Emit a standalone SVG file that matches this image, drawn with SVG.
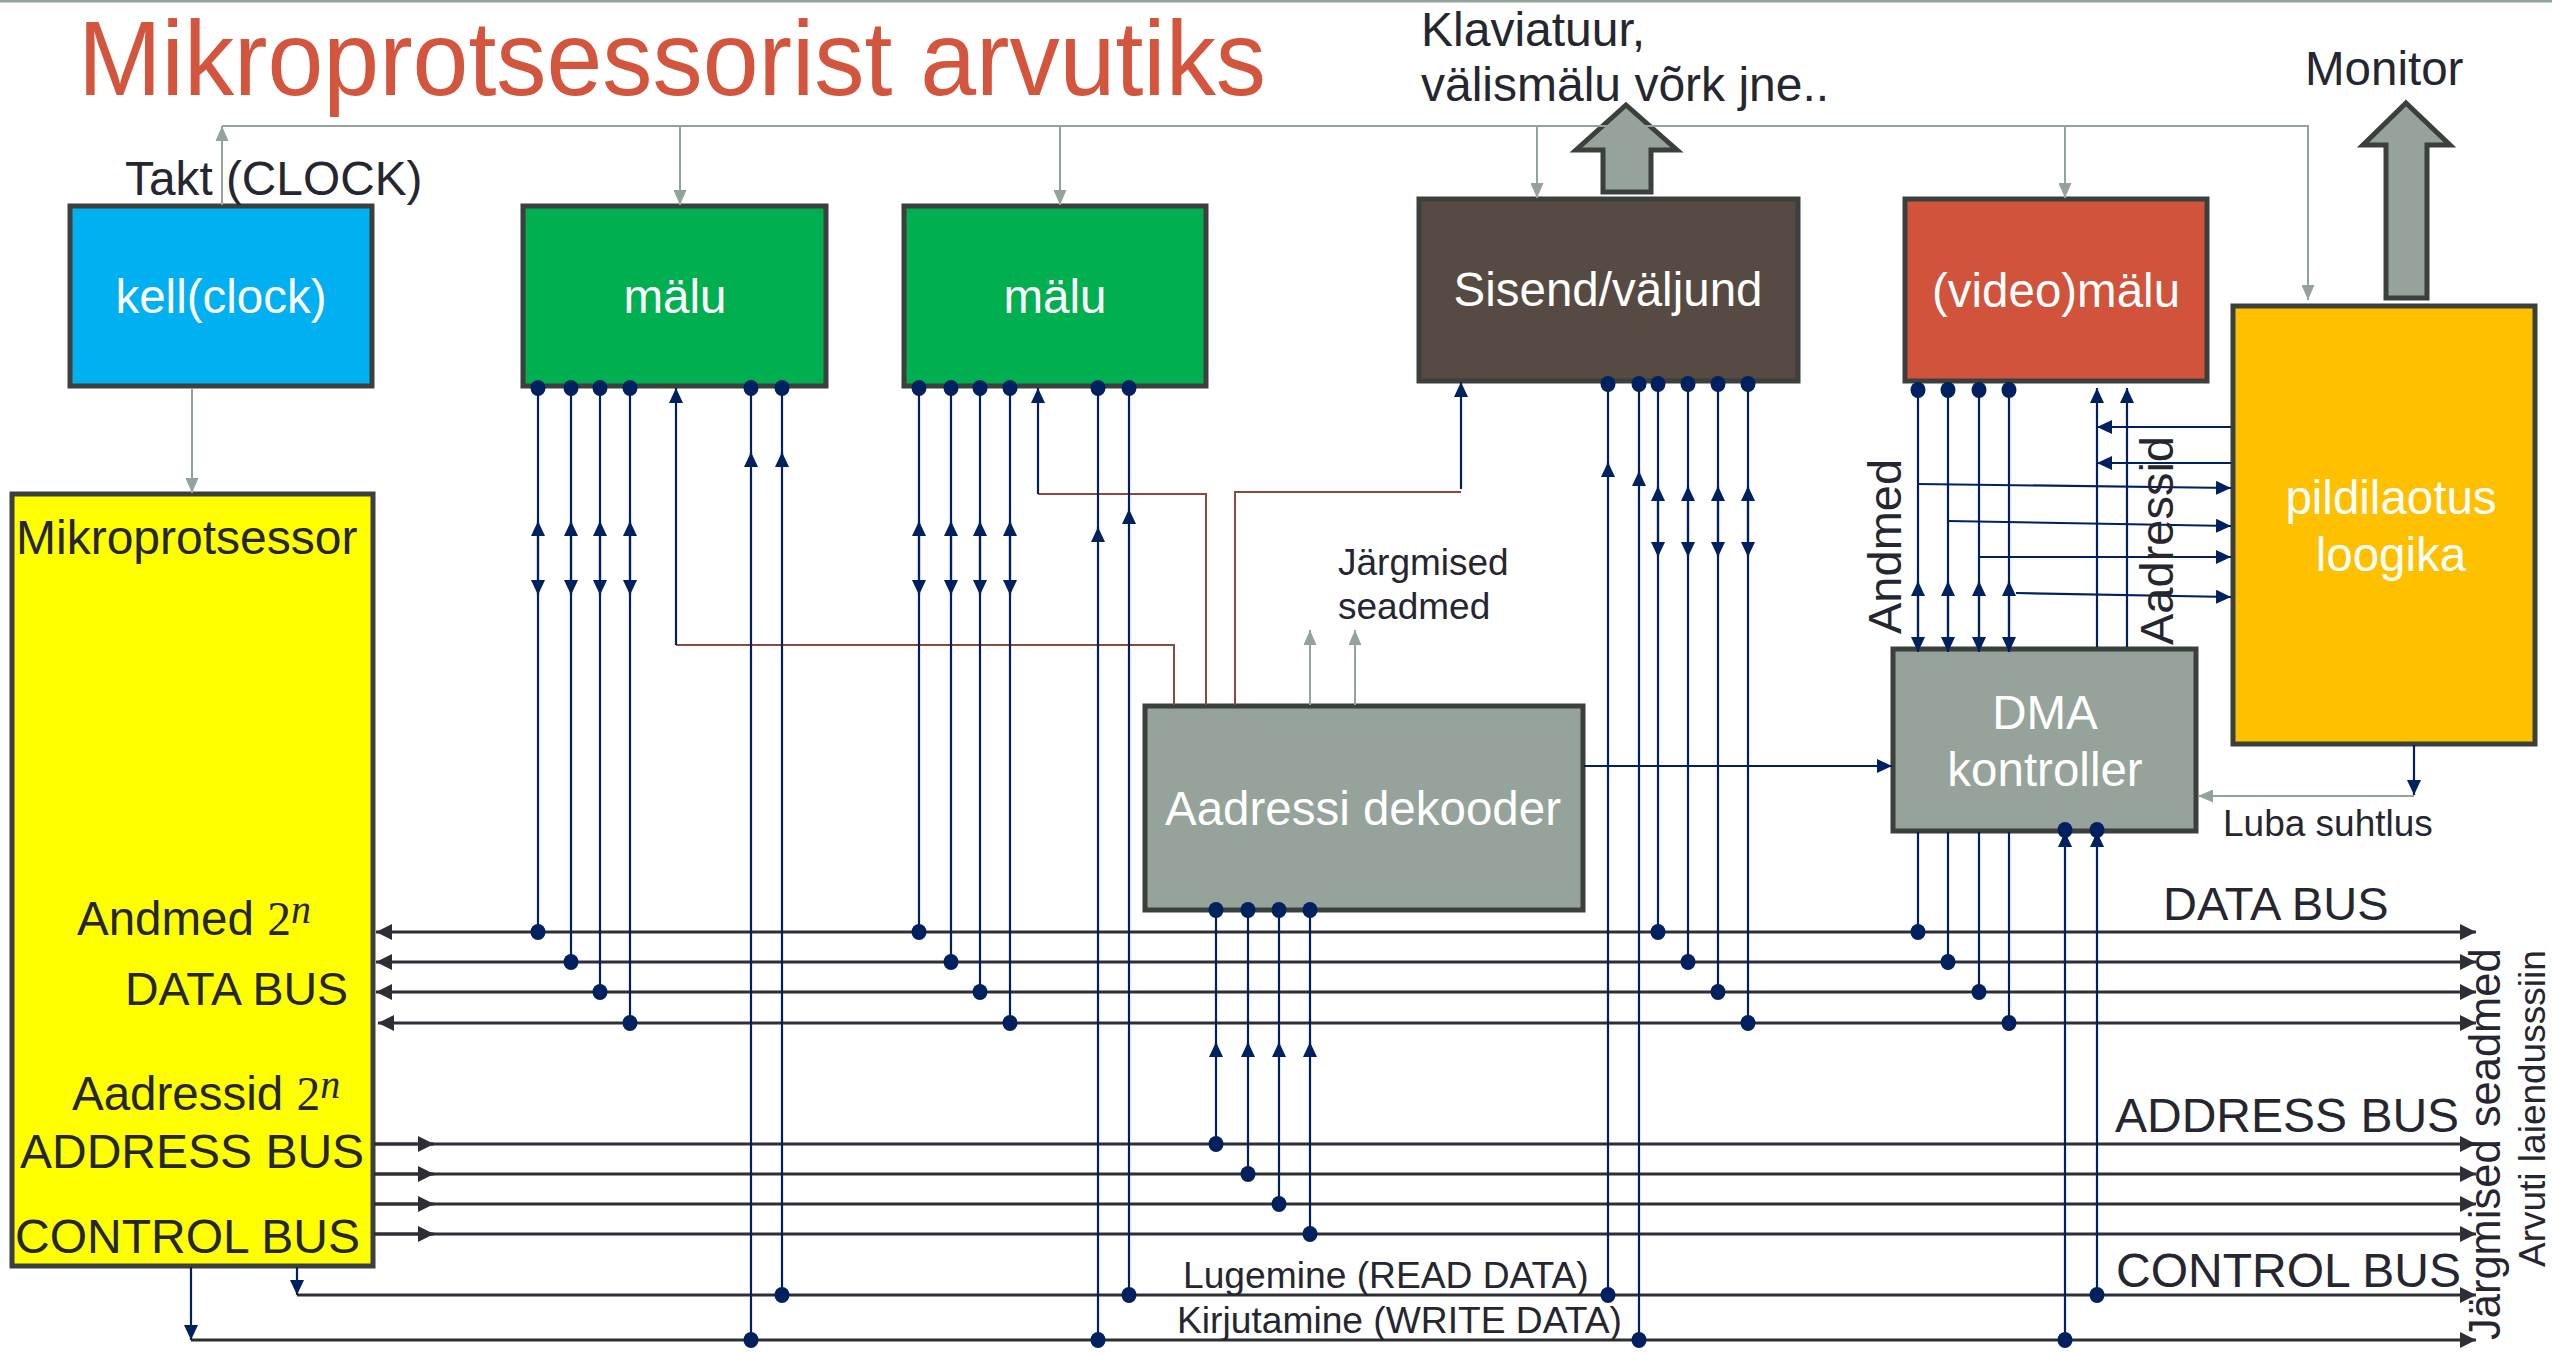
<svg xmlns="http://www.w3.org/2000/svg" width="2552" height="1353" viewBox="0 0 2552 1353">
  <style>
    .box { stroke: #3b403c; stroke-width: 5; }
    .t { font-family: "Liberation Sans", Arial, sans-serif; }
    .wt { fill: #ffffff; font-size: 47.5px; text-anchor: middle; }
    .lbl { fill: #262630; }
    .nv { stroke: #002060; stroke-width: 2.2; fill: none; }
    .bus { stroke: #2d2e36; stroke-width: 3; fill: none; }
    .gr { stroke: #94a39a; stroke-width: 2; fill: none; }
    .br { stroke: #8b4a3c; stroke-width: 2; fill: none; }
    .blk { fill: #95a39a; stroke: #3b403c; stroke-width: 5; stroke-linejoin: miter; }
    .dot { fill: #002060; }
  </style>
  <defs>
    <marker id="an" viewBox="0 0 15 14" refX="15" refY="7" markerWidth="15" markerHeight="14" markerUnits="userSpaceOnUse" orient="auto">
      <path d="M0,0 L15,7 L0,14 z" fill="#002060"/>
    </marker>
    <marker id="ad" viewBox="0 0 16 16" refX="16" refY="8" markerWidth="16" markerHeight="16" markerUnits="userSpaceOnUse" orient="auto-start-reverse">
      <path d="M0,0 L16,8 L0,16 z" fill="#2d2e36"/>
    </marker>
    <marker id="ag" viewBox="0 0 15 13" refX="15" refY="6.5" markerWidth="15" markerHeight="13" markerUnits="userSpaceOnUse" orient="auto">
      <path d="M0,0 L15,6.5 L0,13 z" fill="#94a39a"/>
    </marker>
    <marker id="dt" viewBox="-8 -8 16 16" refX="0" refY="0" markerWidth="16" markerHeight="16" markerUnits="userSpaceOnUse">
      <ellipse cx="0" cy="0" rx="7.5" ry="8" fill="#002060"/>
    </marker>
  </defs>

  <rect width="2552" height="1353" fill="#ffffff"/>
  <rect x="0" y="0" width="2552" height="2.5" fill="#94a39a"/>

  <text class="t" x="78" y="95" font-size="106" fill="#d3553d" textLength="1188" lengthAdjust="spacingAndGlyphs">Mikroprotsessorist arvutiks</text>

  <!-- blocks -->
  <g id="kell">
    <rect class="box" x="70" y="206" width="302" height="180" fill="#00b0f0"/>
    <text class="t wt" x="221" y="313" font-size="46.5">kell(clock)</text>
  </g>
  <g id="malu1">
    <rect class="box" x="523" y="206" width="303" height="180" fill="#00b050"/>
    <text class="t wt" x="675" y="313">mälu</text>
  </g>
  <g id="malu2">
    <rect class="box" x="904" y="206" width="302" height="180" fill="#00b050"/>
    <text class="t wt" x="1055" y="313">mälu</text>
  </g>
  <g id="sisend">
    <rect class="box" x="1419" y="199" width="379" height="182" fill="#564a42"/>
    <text class="t wt" x="1608" y="306" font-size="48">Sisend/väljund</text>
  </g>
  <g id="videomalu">
    <rect class="box" x="1905" y="199" width="302" height="182" fill="#d2533b"/>
    <text class="t wt" x="2056" y="307" font-size="47">(video)mälu</text>
  </g>
  <g id="pildilaotus">
    <rect class="box" x="2233" y="306" width="302" height="438" fill="#ffc000"/>
    <text class="t wt" x="2391" y="514">pildilaotus</text>
    <text class="t wt" x="2391" y="571">loogika</text>
  </g>
  <g id="mikroprotsessor">
    <rect class="box" x="12" y="494" width="361" height="772" fill="#ffff00"/>
    <text class="t lbl" x="16" y="554" font-size="48">Mikroprotsessor</text>
    <text class="t lbl" x="77" y="935" font-size="47.5">Andmed <tspan font-family="Liberation Serif, serif">2</tspan><tspan font-family="Liberation Serif, serif" font-style="italic" font-size="40" dy="-12">n</tspan></text>
    <text class="t lbl" x="125" y="1005" font-size="46.5">DATA BUS</text>
    <text class="t lbl" x="72" y="1110" font-size="47.5">Aadressid <tspan font-family="Liberation Serif, serif">2</tspan><tspan font-family="Liberation Serif, serif" font-style="italic" font-size="40" dy="-12">n</tspan></text>
    <text class="t lbl" x="20" y="1168" font-size="48">ADDRESS BUS</text>
    <text class="t lbl" x="15" y="1253" font-size="48">CONTROL BUS</text>
  </g>
  <g id="dekooder">
    <rect class="box" x="1145" y="706" width="438" height="204" fill="#95a39a"/>
    <text class="t wt" x="1363" y="825">Aadressi dekooder</text>
  </g>
  <g id="dma">
    <rect class="box" x="1893" y="649" width="303" height="182" fill="#95a39a"/>
    <text class="t wt" x="2045" y="729">DMA</text>
    <text class="t wt" x="2045" y="786">kontroller</text>
  </g>
  <g id="valisseadmed">
    <path class="blk" d="M1626,105 L1677,150 L1651,150 L1651,192 L1603,192 L1603,150 L1576,150 Z"/>
  </g>
  <g id="monitor">
    <path class="blk" d="M2406,103 L2450,145 L2427,145 L2427,298 L2386,298 L2386,145 L2363,145 Z"/>
  </g>

  <g id="connectors">
    <!-- buses -->
    <g class="bus">
      <path d="M376,932 H2476" marker-start="url(#ad)" marker-end="url(#ad)"/>
      <path d="M376,962 H2476" marker-start="url(#ad)" marker-end="url(#ad)"/>
      <path d="M376,992 H2476" marker-start="url(#ad)" marker-end="url(#ad)"/>
      <path d="M378,1023 H2476" marker-start="url(#ad)" marker-end="url(#ad)"/>
      <path d="M374,1144 H2476" marker-end="url(#ad)"/>
      <path d="M374,1174 H2476" marker-end="url(#ad)"/>
      <path d="M374,1204 H2476" marker-end="url(#ad)"/>
      <path d="M374,1234 H2476" marker-end="url(#ad)"/>
      <path d="M374,1144 H434" marker-end="url(#ad)"/>
      <path d="M374,1174 H434" marker-end="url(#ad)"/>
      <path d="M374,1204 H434" marker-end="url(#ad)"/>
      <path d="M374,1234 H434" marker-end="url(#ad)"/>
      <path d="M297,1295 H2476" marker-end="url(#ad)"/>
      <path d="M191,1340 H2476" marker-end="url(#ad)"/>
    </g>

    <!-- clock distribution and other grey links -->
    <g class="gr">
      <path d="M222,205 V126" marker-end="url(#ag)"/>
      <path d="M222,126 H2308 V300" marker-end="url(#ag)"/>
      <path d="M680,126 V205" marker-end="url(#ag)"/>
      <path d="M1060,126 V205" marker-end="url(#ag)"/>
      <path d="M1537,126 V198" marker-end="url(#ag)"/>
      <path d="M2065,126 V198" marker-end="url(#ag)"/>
      <path d="M192,388 V493" marker-end="url(#ag)"/>
      <path d="M1310,705 V630" marker-end="url(#ag)"/>
      <path d="M1355,705 V630" marker-end="url(#ag)"/>
      <path d="M2414,796 H2198" marker-end="url(#ag)"/>
    </g>

    <!-- chip select lines from the decoder -->
    <g class="br">
      <path d="M676,645 H1174 V705"/>
      <path d="M1038,494 H1206 V705"/>
      <path d="M1461,492 H1235 V705"/>
    </g>

    <g class="nv">
      <!-- memory 1 data -->
      <path d="M538,388 V595" marker-start="url(#dt)" marker-end="url(#an)"/>
      <path d="M538,932 V521" marker-start="url(#dt)" marker-end="url(#an)"/>
      <path d="M571,388 V595" marker-start="url(#dt)" marker-end="url(#an)"/>
      <path d="M571,962 V521" marker-start="url(#dt)" marker-end="url(#an)"/>
      <path d="M600,388 V595" marker-start="url(#dt)" marker-end="url(#an)"/>
      <path d="M600,992 V521" marker-start="url(#dt)" marker-end="url(#an)"/>
      <path d="M630,388 V595" marker-start="url(#dt)" marker-end="url(#an)"/>
      <path d="M630,1023 V521" marker-start="url(#dt)" marker-end="url(#an)"/>
      <!-- memory 2 data -->
      <path d="M919,388 V595" marker-start="url(#dt)" marker-end="url(#an)"/>
      <path d="M919,932 V521" marker-start="url(#dt)" marker-end="url(#an)"/>
      <path d="M951,388 V595" marker-start="url(#dt)" marker-end="url(#an)"/>
      <path d="M951,962 V521" marker-start="url(#dt)" marker-end="url(#an)"/>
      <path d="M980,388 V595" marker-start="url(#dt)" marker-end="url(#an)"/>
      <path d="M980,992 V521" marker-start="url(#dt)" marker-end="url(#an)"/>
      <path d="M1010,388 V595" marker-start="url(#dt)" marker-end="url(#an)"/>
      <path d="M1010,1023 V521" marker-start="url(#dt)" marker-end="url(#an)"/>
      <!-- I/O data -->
      <path d="M1658,384 V557" marker-start="url(#dt)" marker-end="url(#an)"/>
      <path d="M1658,932 V486" marker-start="url(#dt)" marker-end="url(#an)"/>
      <path d="M1688,384 V557" marker-start="url(#dt)" marker-end="url(#an)"/>
      <path d="M1688,962 V486" marker-start="url(#dt)" marker-end="url(#an)"/>
      <path d="M1718,384 V557" marker-start="url(#dt)" marker-end="url(#an)"/>
      <path d="M1718,992 V486" marker-start="url(#dt)" marker-end="url(#an)"/>
      <path d="M1748,384 V557" marker-start="url(#dt)" marker-end="url(#an)"/>
      <path d="M1748,1023 V486" marker-start="url(#dt)" marker-end="url(#an)"/>
      <!-- video memory data through DMA -->
      <path d="M1918,390 V652" marker-start="url(#dt)" marker-end="url(#an)"/>
      <path d="M1918,645 V581" marker-end="url(#an)"/>
      <path d="M1918,932 V832" marker-start="url(#dt)"/>
      <path d="M1948,390 V652" marker-start="url(#dt)" marker-end="url(#an)"/>
      <path d="M1948,645 V581" marker-end="url(#an)"/>
      <path d="M1948,962 V832" marker-start="url(#dt)"/>
      <path d="M1979,390 V652" marker-start="url(#dt)" marker-end="url(#an)"/>
      <path d="M1979,645 V581" marker-end="url(#an)"/>
      <path d="M1979,992 V832" marker-start="url(#dt)"/>
      <path d="M2009,390 V652" marker-start="url(#dt)" marker-end="url(#an)"/>
      <path d="M2009,645 V581" marker-end="url(#an)"/>
      <path d="M2009,1023 V832" marker-start="url(#dt)"/>
      <!-- read / write strobes -->
      <path d="M751,388 V460" marker-start="url(#dt)"/>
      <path d="M751,1340 V452" marker-start="url(#dt)" marker-end="url(#an)"/>
      <path d="M782,388 V460" marker-start="url(#dt)"/>
      <path d="M782,1295 V452" marker-start="url(#dt)" marker-end="url(#an)"/>
      <path d="M1098,388 V530" marker-start="url(#dt)"/>
      <path d="M1098,1340 V527" marker-start="url(#dt)" marker-end="url(#an)"/>
      <path d="M1129,388 V510" marker-start="url(#dt)"/>
      <path d="M1129,1295 V509" marker-start="url(#dt)" marker-end="url(#an)"/>
      <path d="M1608,384 V470" marker-start="url(#dt)"/>
      <path d="M1608,1295 V462" marker-start="url(#dt)" marker-end="url(#an)"/>
      <path d="M1639,384 V480" marker-start="url(#dt)"/>
      <path d="M1639,1340 V471" marker-start="url(#dt)" marker-end="url(#an)"/>
      <path d="M2065,1340 V832" marker-start="url(#dt)" marker-end="url(#an)"/>
      <path d="M2097,1295 V832" marker-start="url(#dt)" marker-end="url(#an)"/>
      <!-- decoder address inputs -->
      <path d="M1216,910 V1050" marker-start="url(#dt)"/>
      <path d="M1216,1144 V1042" marker-start="url(#dt)" marker-end="url(#an)"/>
      <path d="M1248,910 V1050" marker-start="url(#dt)"/>
      <path d="M1248,1174 V1042" marker-start="url(#dt)" marker-end="url(#an)"/>
      <path d="M1279,910 V1050" marker-start="url(#dt)"/>
      <path d="M1279,1204 V1042" marker-start="url(#dt)" marker-end="url(#an)"/>
      <path d="M1310,910 V1050" marker-start="url(#dt)"/>
      <path d="M1310,1234 V1042" marker-start="url(#dt)" marker-end="url(#an)"/>
      <!-- chip select inputs -->
      <path d="M676,645 V388" marker-end="url(#an)"/>
      <path d="M1038,494 V388" marker-end="url(#an)"/>
      <path d="M1461,489 V382" marker-end="url(#an)"/>
      <!-- decoder to DMA -->
      <path d="M1584,766 H1892" marker-end="url(#an)"/>
      <!-- video memory addressing -->
      <path d="M2097,647 V388" marker-end="url(#an)"/>
      <path d="M2127,647 V388" marker-end="url(#an)"/>
      <path d="M2231,427 H2097" marker-end="url(#an)"/>
      <path d="M2231,463 H2097" marker-end="url(#an)"/>
      <!-- data into picture logic -->
      <path d="M1918,484 L2231,488" marker-end="url(#an)"/>
      <path d="M1948,521 L2231,526" marker-end="url(#an)"/>
      <path d="M1979,557 L2231,557" marker-end="url(#an)"/>
      <path d="M2016,593 L2231,597" marker-end="url(#an)"/>
      <!-- bus grant -->
      <path d="M2414,745 V795" marker-end="url(#an)"/>
      <!-- processor strobes -->
      <path d="M297,1267 V1295" marker-end="url(#an)"/>
      <path d="M191,1267 V1340" marker-end="url(#an)"/>
    </g>
    <ellipse class="dot" cx="2065" cy="830" rx="7.5" ry="8"/>
    <ellipse class="dot" cx="2097" cy="830" rx="7.5" ry="8"/>
  </g>

  <!-- free labels -->
  <g class="t lbl">
    <text x="125" y="195" font-size="47.8">Takt (CLOCK)</text>
    <text x="1421" y="46" font-size="48">Klaviatuur,</text>
    <text x="1421" y="101" font-size="48">välismälu võrk jne..</text>
    <text x="2305" y="85" font-size="47.5">Monitor</text>
    <text x="1338" y="575" font-size="37">Järgmised</text>
    <text x="1338" y="619" font-size="37">seadmed</text>
    <text x="2223" y="836" font-size="37">Luba suhtlus</text>
    <text x="2163" y="920" font-size="47">DATA BUS</text>
    <text x="2115" y="1132" font-size="48">ADDRESS BUS</text>
    <text x="2116" y="1287" font-size="48">CONTROL BUS</text>
    <text x="1183" y="1288" font-size="37.2">Lugemine (READ DATA)</text>
    <text x="1177" y="1333" font-size="37.2">Kirjutamine (WRITE DATA)</text>
    <text transform="translate(1901,634) rotate(-90)" font-size="47">Andmed</text>
    <text transform="translate(2173,645) rotate(-90)" font-size="47">Aadressid</text>
    <text transform="translate(2500,1340) rotate(-90)" font-size="43.5">Järgmised seadmed</text>
    <text transform="translate(2545,1267) rotate(-90)" font-size="37">Arvuti laiendusssiin</text>
  </g>
</svg>
